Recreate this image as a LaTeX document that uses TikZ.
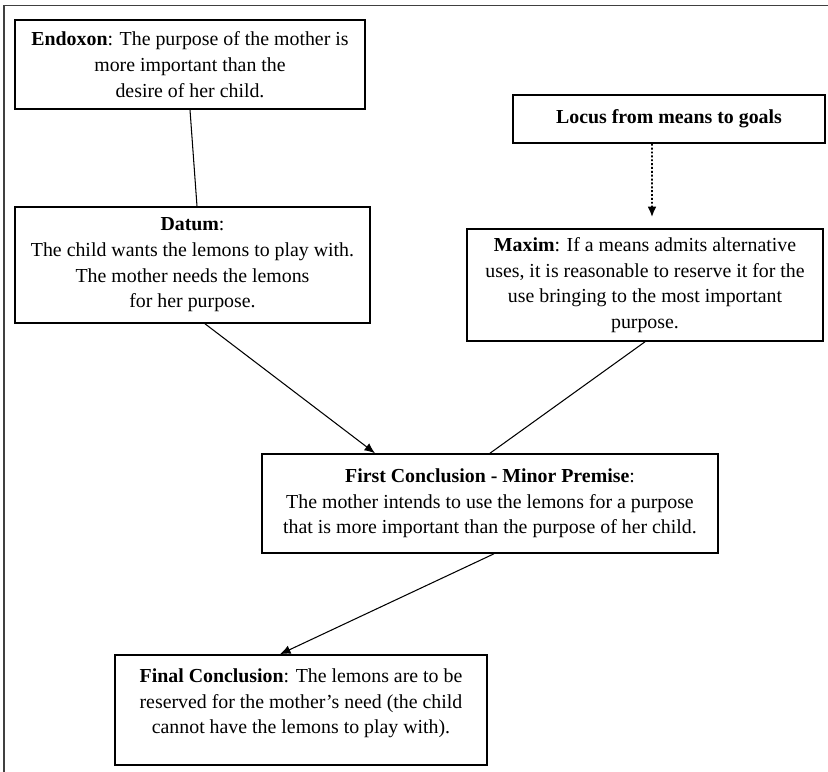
\documentclass[tikz,border=0pt]{standalone}
\usepackage{fontspec}
\setmainfont{Liberation Serif}
\usetikzlibrary{arrows.meta}
\begin{document}
\begin{tikzpicture}[
  box/.style={draw, line width=0.9pt, align=center, inner sep=2pt,
    font=\fontsize{11.3}{14.6}\selectfont},
  link/.style={line width=0.6pt},
  tip/.style={-{Latex[length=6pt,width=5pt]}}
]
\useasboundingbox (0,0) rectangle (16.56,-15.44);
\draw[black!75, line width=0.8pt] (0.08,-15.44) -- (0.08,-0.11) -- (16.56,-0.11);

\node[box, minimum width=7.0cm, minimum height=1.78cm] (endoxon) at (3.8,-1.29)
  {\textbf{Endoxon}: The purpose of the mother is\\ more important than the\\ desire of her child.};
\node[box, minimum width=6.24cm, minimum height=0.96cm] (locus) at (13.38,-2.38)
  {\textbf{Locus from means to goals}};
\node[box, minimum width=7.1cm, minimum height=2.32cm] (datum) at (3.85,-5.3)
  {\textbf{Datum}:\\ The child wants the lemons to play with.\\ The mother needs the lemons\\ for her purpose.};
\node[box, minimum width=7.12cm, minimum height=2.24cm] (maxim) at (12.9,-5.7)
  {\textbf{Maxim}: If a means admits alternative\\ uses, it is reasonable to reserve it for the\\ use bringing to the most important\\ purpose.};
\node[box, minimum width=9.12cm, minimum height=1.98cm] (first) at (9.8,-10.07)
  {\textbf{First Conclusion - Minor Premise}:\\ The mother intends to use the lemons for a purpose\\ that is more important than the purpose of her child.};
\node[box, minimum width=7.44cm, minimum height=2.2cm, text depth=10pt] (final) at (6.02,-14.2)
  {\textbf{Final Conclusion}: The lemons are to be\\ reserved for the mother's need (the child\\ cannot have the lemons to play with).};

\draw[link] (endoxon.south) -- ([xshift=0.09cm]datum.north);
\draw[link, tip, line width=1.1pt, dash pattern=on 1.1pt off 1.1pt] ([xshift=-0.34cm]locus.south) -- ([xshift=0.14cm,yshift=0.22cm]maxim.north);
\draw[link, tip] ([xshift=0.25cm]datum.south) -- ([xshift=-2.3cm]first.north);
\draw[link] (maxim.south) -- (first.north);
\draw[link, tip] ([xshift=0.08cm]first.south) -- ([xshift=-0.42cm]final.north);
\end{tikzpicture}
\end{document}
